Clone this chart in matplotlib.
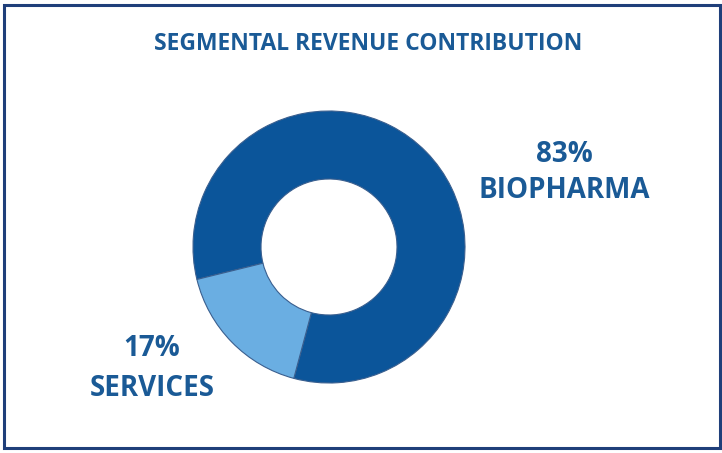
import matplotlib.pyplot as plt
from matplotlib.patches import Rectangle

# data
segments = ["BIOPHARMA", "SERVICES"]
shares = [83, 17]
colors = ["#0B559A", "#6AAEE2"]

W, H = 722, 453
fig = plt.figure(figsize=(W / 100, H / 100), dpi=100)
fig.patch.set_facecolor("white")

# outer frame
fig.patches.append(Rectangle((4 / W, 5 / H), 716 / W, 443 / H, transform=fig.transFigure,
                             fill=False, edgecolor="#1F3F7A", linewidth=2.2))

# donut axes, placed in pixels
cx, cy, r = 329, 247, 136
box = 140
ax = fig.add_axes([(cx - box) / W, (H - cy - box) / H, 2 * box / W, 2 * box / H])
ax.pie(shares, colors=colors, startangle=255, radius=1,
       wedgeprops=dict(width=0.5, edgecolor="#3A5F8F", linewidth=0.8))
lim = box / r
ax.set_xlim(-lim, lim)
ax.set_ylim(-lim, lim)
ax.axis("off")

txt = "#1A5A96"
font = "Open Sans"
fig.text(368 / W, 1 - 44 / H, "SEGMENTAL REVENUE CONTRIBUTION", ha="center", va="center",
         fontsize=16.5, fontweight="bold", color=txt, family=font)
fig.text(564 / W, 1 - 154 / H, f"{shares[0]}%", ha="center", va="center",
         fontsize=20, fontweight="bold", color=txt, family=font)
fig.text(564 / W, 1 - 191 / H, segments[0], ha="center", va="center",
         fontsize=20, fontweight="bold", color=txt, family=font)
fig.text(152 / W, 1 - 349 / H, f"{shares[1]}%", ha="center", va="center",
         fontsize=20, fontweight="bold", color=txt, family=font)
fig.text(152 / W, 1 - 388 / H, segments[1], ha="center", va="center",
         fontsize=20, fontweight="bold", color=txt, family=font)

plt.savefig("out.png", dpi=100)
